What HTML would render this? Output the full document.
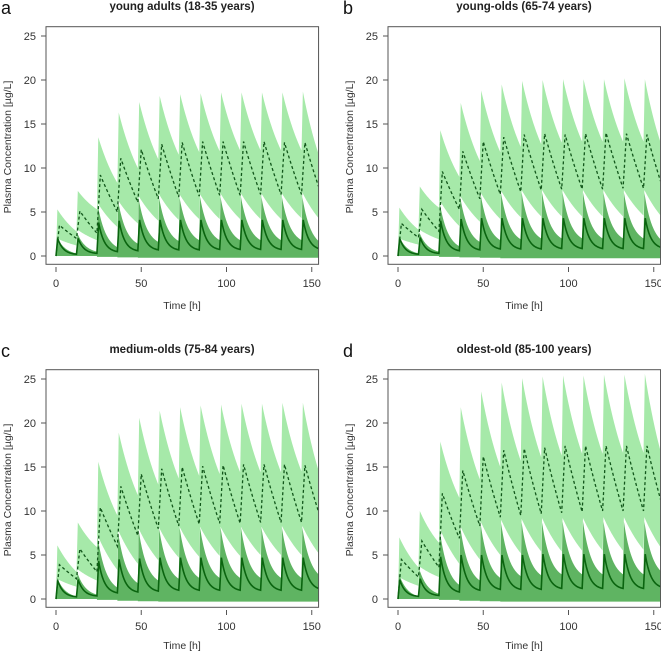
<!DOCTYPE html>
<html><head><meta charset="utf-8"><style>
html,body{margin:0;padding:0;background:#fff;}
svg{display:block;font-family:"Liberation Sans",Arial,sans-serif;}
</style></head>
<body>
<svg id="chart" width="661" height="653" viewBox="0 0 661 653" xmlns="http://www.w3.org/2000/svg"></svg>
<script>
// dose times (h)
const doseTimes = [0,12,24,36,48,60,72,84,96,108,120,132,144];
const xTicks = [0,50,100,150];
const yTicks = [0,5,10,15,20,25];
const panelTitles = ["young adults (18-35 years)","young-olds (65-74 years)","medium-olds (75-84 years)","oldest-old (85-100 years)"];
const panelLetters = ["a","b","c","d"];

// panel a
const aLUpeak=[5.3,7.4,13.5,16.3,17.5,18.2,18.4,18.5,18.6,18.6,18.6,18.6,18.7];
const aLUend =[2.8,5.3,8.3,10.0,11.0,11.5,11.8,11.9,12.0,12.0,12.0,12.0,11.6];
const aLLpeak=[2.0,3.0,6.0,6.3,6.8,7.0,7.0,7.0,7.1,7.1,7.1,7.1,7.2];
const aLLend =[1.2,1.8,3.3,3.7,4.0,4.1,4.2,4.2,4.2,4.2,4.2,4.3,4.3];
const aMDpeak=[3.5,5.1,9.2,11.1,12.1,12.7,12.9,13.0,13.0,13.0,13.0,12.9,12.9];
const aMDend =[2.0,2.6,5.0,6.1,6.5,6.7,6.8,6.9,6.9,7.0,7.0,7.0,7.9];
const aDUpeak=[2.2,2.6,5.8,6.2,6.5,6.6,6.6,6.7,6.7,6.7,6.7,6.7,6.7];
const aDUend =[0.3,0.5,1.0,1.4,1.6,1.7,1.8,1.8,1.8,1.8,1.8,1.8,1.7];
const aSLpeak=[2.0,2.0,3.8,4.0,4.1,4.1,4.1,4.1,4.1,4.1,4.1,4.1,4.1];
const aSLend =[0.2,0.3,0.5,0.6,0.7,0.7,0.7,0.75,0.75,0.75,0.75,0.75,0.85];
const aDL    =[0,0,-0.1,-0.15,-0.2,-0.2,-0.2,-0.2,-0.2,-0.2,-0.2,-0.2,-0.2];
// panel b
const bLUpeak=[5.5,7.9,14.3,17.4,18.8,19.5,19.9,20.0,20.1,20.1,20.1,20.2,20.1];
const bLUend =[3.0,5.5,9.0,10.8,11.8,12.4,12.7,12.9,13.0,13.0,13.0,13.0,12.9];
const bLLpeak=[2.0,3.0,6.3,6.8,7.2,7.4,7.5,7.5,7.5,7.5,7.5,7.5,7.5];
const bLLend =[1.3,1.9,3.4,3.9,4.2,4.4,4.5,4.5,4.5,4.5,4.5,4.6,4.6];
const bMDpeak=[3.7,5.3,9.6,11.9,13.0,13.5,13.8,13.9,13.8,13.9,14.0,13.9,13.8];
const bMDend =[2.1,2.8,5.3,6.5,7.0,7.3,7.5,7.6,7.6,7.6,7.7,7.7,8.5];
const bDUpeak=[2.3,2.7,6.0,6.7,7.0,7.1,7.2,7.2,7.2,7.2,7.2,7.2,7.2];
const bDUend =[0.3,0.5,1.1,1.6,1.8,1.9,2.0,2.0,2.0,2.0,2.0,2.0,1.9];
const bSLpeak=[2.0,2.1,4.0,4.2,4.3,4.3,4.3,4.3,4.3,4.3,4.3,4.3,4.3];
const bSLend =[0.2,0.3,0.6,0.7,0.8,0.8,0.8,0.85,0.85,0.85,0.85,0.85,1.0];
const bDL    =[0,0,-0.1,-0.15,-0.2,-0.25,-0.25,-0.25,-0.25,-0.25,-0.25,-0.25,-0.25];
// panel c
const cLUpeak=[6.1,8.7,15.6,18.9,20.6,21.4,21.8,22.0,22.1,22.2,22.2,22.3,22.3];
const cLUend =[3.1,5.9,9.5,11.8,13.0,13.7,14.0,14.2,14.4,14.4,14.4,14.5,14.6];
const cLLpeak=[2.3,3.4,7.2,7.8,8.0,8.1,8.2,8.2,8.2,8.2,8.2,8.3,8.3];
const cLLend =[1.4,2.1,3.3,4.0,4.4,4.7,4.8,4.9,4.9,5.0,5.0,5.0,5.2];
const cMDpeak=[3.9,5.7,10.4,12.8,14.2,14.8,15.0,15.1,15.2,15.3,15.3,15.3,15.2];
const cMDend =[2.3,3.1,6.0,7.2,8.0,8.3,8.5,8.6,8.6,8.7,8.7,8.7,9.9];
const cDUpeak=[2.5,3.0,7.0,7.5,7.8,8.0,8.1,8.1,8.1,8.1,8.1,8.1,8.1];
const cDUend =[0.3,0.5,1.3,1.8,2.1,2.3,2.4,2.4,2.4,2.4,2.4,2.4,2.8];
const cSLpeak=[2.1,2.2,4.3,4.5,4.6,4.7,4.7,4.7,4.7,4.7,4.7,4.7,4.7];
const cSLend =[0.25,0.35,0.7,0.8,0.9,1.0,1.0,1.0,1.0,1.0,1.0,1.0,1.2];
const cDL    =[0,0,-0.1,-0.2,-0.25,-0.3,-0.3,-0.3,-0.3,-0.3,-0.3,-0.3,-0.3];
// panel d
const dLUpeak=[7.0,10.0,17.9,21.8,23.6,24.6,25.1,25.3,25.4,25.4,25.5,25.5,25.6];
const dLUend =[3.6,6.4,11.5,13.6,15.0,15.7,16.1,16.3,16.5,16.5,16.6,16.6,16.8];
const dLLpeak=[2.5,3.7,8.0,8.3,8.8,9.0,9.1,9.2,9.2,9.2,9.3,9.3,9.3];
const dLLend =[1.5,2.5,4.0,4.5,5.0,5.2,5.4,5.4,5.5,5.5,5.5,5.6,5.9];
const dMDpeak=[4.5,6.6,12.0,14.6,16.2,16.9,17.1,17.2,17.4,17.4,17.4,17.4,17.4];
const dMDend =[2.5,3.6,6.9,8.3,9.3,9.5,9.7,9.8,9.9,10.0,10.0,10.0,11.3];
const dDUpeak=[2.9,3.4,7.8,8.2,8.5,8.6,8.7,8.7,8.8,8.8,8.8,8.8,8.8];
const dDUend =[0.3,0.6,1.6,2.1,2.4,2.6,2.7,2.8,2.8,2.8,2.8,2.8,3.2];
const dSLpeak=[2.2,2.3,4.8,5.0,5.0,5.0,5.0,5.1,5.1,5.1,5.1,5.1,5.1];
const dSLend =[0.3,0.4,0.8,1.0,1.1,1.1,1.1,1.2,1.2,1.2,1.2,1.2,1.4];
const dDL    =[0,0,-0.1,-0.2,-0.25,-0.3,-0.3,-0.3,-0.3,-0.3,-0.3,-0.3,-0.3];

const panels = [
 {ox:0,oy:0,LU:[aLUpeak,aLUend],LL:[aLLpeak,aLLend],MD:[aMDpeak,aMDend],DU:[aDUpeak,aDUend],SL:[aSLpeak,aSLend],DL:aDL},
 {ox:342,oy:0,LU:[bLUpeak,bLUend],LL:[bLLpeak,bLLend],MD:[bMDpeak,bMDend],DU:[bDUpeak,bDUend],SL:[bSLpeak,bSLend],DL:bDL},
 {ox:0,oy:343,LU:[cLUpeak,cLUend],LL:[cLLpeak,cLLend],MD:[cMDpeak,cMDend],DU:[cDUpeak,cDUend],SL:[cSLpeak,cSLend],DL:cDL},
 {ox:342,oy:343,LU:[dLUpeak,dLUend],LL:[dLLpeak,dLLend],MD:[dMDpeak,dMDend],DU:[dDUpeak,dDUend],SL:[dSLpeak,dSLend],DL:dDL}
];

const NS="http://www.w3.org/2000/svg";
const svg=document.getElementById('chart');
function mk(tag,attrs,parent){const e=document.createElementNS(NS,tag);for(const k in attrs)e.setAttribute(k,attrs[k]);(parent||svg).appendChild(e);return e;}

const TEND=154;
function curve(peaks,ends,tr,k){
  const pts=[];
  for(let i=0;i<doseTimes.length;i++){
    const t0=doseTimes[i];
    const T=(i+1<doseTimes.length?doseTimes[i+1]:TEND)-t0;
    const s=i===0?0:ends[i-1];
    const P=peaks[i],E=ends[i];
    pts.push([t0,s]);pts.push([t0+tr,P]);
    const D=T-tr, den=1-Math.exp(-k*D);
    for(let tau=0.25;tau<=D+1e-6;tau+=0.25){
      const f=(Math.exp(-k*tau)-Math.exp(-k*D))/den;
      pts.push([t0+tr+tau,E+(P-E)*f]);
    }
  }
  return pts;
}
function flat(vals){
  const pts=[];
  for(let i=0;i<doseTimes.length;i++){
    const t0=doseTimes[i];
    const t1=(i+1<doseTimes.length?doseTimes[i+1]:TEND);
    pts.push([t0,vals[i]]);pts.push([t1,vals[i]]);
  }
  return pts;
}

panels.forEach((p,pi)=>{
  const g=mk('g',{transform:`translate(${p.ox},${p.oy})`});
  
  
  const x=t=>56+t*1.705;
  const y=v=>256-v*8.8;
  const L=46,R=x(TEND),Tp=26.7,B=264.3;
  const cid='clip'+pi;
  const cp=mk('clipPath',{id:cid},g);
  mk('rect',{x:L,y:Tp,width:R-L,height:B-Tp},cp);
  const plot=mk('g',{'clip-path':`url(#${cid})`},g);
  const toPts=a=>a.map(q=>x(q[0]).toFixed(2)+','+y(q[1]).toFixed(2));
  const lu=curve(p.LU[0],p.LU[1],0.8,0.06), ll=curve(p.LL[0],p.LL[1],0.5,0.05);
  const lb=mk('polygon',{points:toPts(lu).concat(toPts(ll).reverse()).join(' '),fill:'#a6e9a9',stroke:'none'},plot);
  
  
  const du=curve(p.DU[0],p.DU[1],0.5,0.2), dl=flat(p.DL);
  const db=mk('polygon',{points:toPts(du).concat(toPts(dl).reverse()).join(' '),fill:'#5fb462',stroke:'none'},plot);
  
  
  const md=curve(p.MD[0],p.MD[1],2.0,0.02);
  const ml=mk('polyline',{points:toPts(md).join(' '),fill:'none',stroke:'#11561a','stroke-width':1.3,'stroke-dasharray':'3,2.5'},plot);
  
  
  const sl=curve(p.SL[0],p.SL[1],1.0,0.3);
  const sll=mk('polyline',{points:toPts(sl).join(' '),fill:'none',stroke:'#0a640f','stroke-width':1.6},plot);
  
  
  const box=mk('rect',{x:L,y:Tp,width:R-L,height:B-Tp,fill:'none',stroke:'#555','stroke-width':1},g);
  
  
  yTicks.forEach(v=>{
    mk('line',{x1:41,x2:L,y1:y(v),y2:y(v),stroke:'#555','stroke-width':1},g);
    const t=mk('text',{x:36,y:y(v)+4,'text-anchor':'end','font-size':11,fill:'#333'},g);
    t.textContent=v;
    
    
  });
  xTicks.forEach(v=>{
    mk('line',{x1:x(v),x2:x(v),y1:267,y2:272,stroke:'#555','stroke-width':1},g);
    const t=mk('text',{x:x(v),y:287,'text-anchor':'middle','font-size':11,fill:'#333'},g);
    t.textContent=v;
    
    
  });
  const xt=mk('text',{x:182,y:(p.oy>0?306:309),'text-anchor':'middle','font-size':10.5,fill:'#333'},g);
  xt.textContent='Time [h]';
  
  
  const yt=mk('text',{x:0,y:0,transform:'translate(11,147) rotate(-90)','text-anchor':'middle','font-size':10.5,fill:'#333'},g);
  yt.textContent='Plasma Concentration [µg/L]';
  
  
  const tt=mk('text',{x:182,y:10,'text-anchor':'middle','font-size':11.5,'font-weight':'bold',fill:'#222'},g);
  tt.textContent=panelTitles[pi];
  
  
  const lt=mk('text',{x:1,y:14,'font-size':18,fill:'#111'},g);
  lt.textContent=panelLetters[pi];
  
  
});
</script>
</body></html>
